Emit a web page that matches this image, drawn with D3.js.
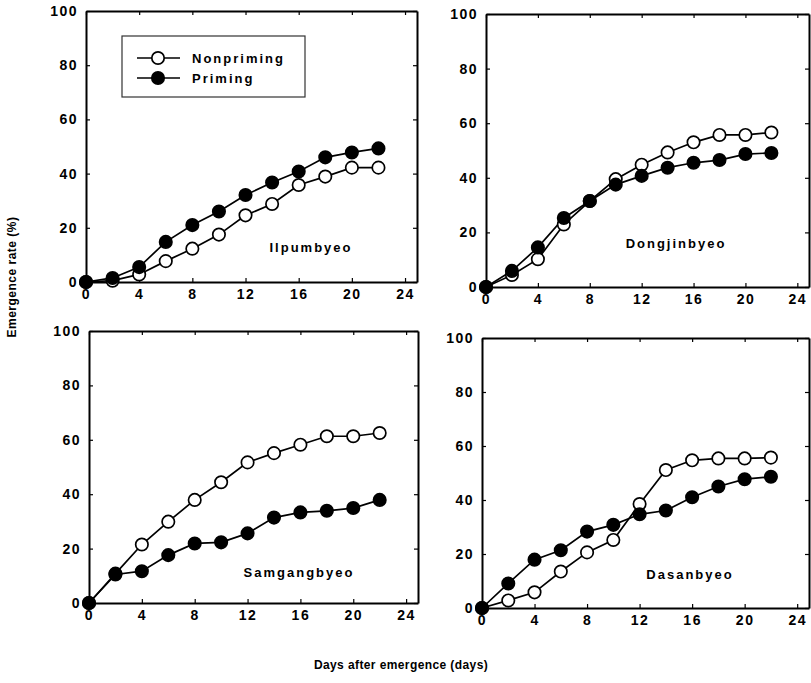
<!DOCTYPE html>
<html>
<head>
<meta charset="utf-8">
<script src="https://cdn.jsdelivr.net/npm/d3@7"></script>
<style>
  body { margin: 0; background: #fff; }
  text { font-family: Arial, "Liberation Sans", sans-serif; font-weight: bold; fill: #000; }
</style>
</head>
<body>
<svg id="chart" width="811" height="683"></svg>
<script>
  // days after emergence
  const days = [0, 2, 4, 6, 8, 10, 12, 14, 16, 18, 20, 22];
  const xTicks = [0, 4, 8, 12, 16, 20, 24];
  const yTicks = [0, 20, 40, 60, 80, 100];
  const cultivars = ['Ilpumbyeo', 'Dongjinbyeo', 'Samgangbyeo', 'Dasanbyeo'];
  const seriesNames = ['Nonpriming', 'Priming'];

  // emergence rate (%)
  const ilpumNon   = [0, 0.5, 2.8, 7.7, 12.3, 17.5, 24.6, 28.8, 35.8, 38.9, 42.2, 42.2];
  const ilpumPri   = [0, 1.5, 5.5, 14.8, 21, 26, 32.1, 36.7, 40.8, 46, 47.8, 49.3];
  const dongjinNon = [0, 4.4, 10.2, 22.9, 31.5, 39.5, 44.8, 49.3, 53, 55.7, 55.7, 56.6];
  const dongjinPri = [0, 5.9, 14.5, 25.3, 31.5, 37.5, 40.7, 43.7, 45.5, 46.5, 48.7, 49.1];
  const samgangNon = [0, 10.8, 21.5, 29.9, 37.9, 44.4, 51.7, 55.1, 58.2, 61.3, 61.3, 62.5];
  const samgangPri = [0, 10.5, 11.7, 17.6, 21.9, 22.3, 25.6, 31.4, 33.3, 33.9, 34.9, 37.9];
  const dasanNon   = [0, 2.8, 5.8, 13.5, 20.6, 25.2, 38.5, 51.1, 54.7, 55.4, 55.4, 55.7];
  const dasanPri   = [0, 9.1, 17.9, 21.4, 28.3, 30.8, 34.7, 36.1, 41, 45, 47.7, 48.6];

  const panelData = [
    [ilpumNon, ilpumPri],
    [dongjinNon, dongjinPri],
    [samgangNon, samgangPri],
    [dasanNon, dasanPri],
  ];

  // layout of the four frames (pixels)
  const frames = [
    { x0: 86, x1: 417, y0: 11, y1: 282, lx: 311, ly: 252 },
    { x0: 486, x1: 809, y0: 14, y1: 287, lx: 676, ly: 248 },
    { x0: 89, x1: 418, y0: 331, y1: 603, lx: 299, ly: 577 },
    { x0: 482, x1: 809, y0: 338, y1: 608, lx: 690, ly: 579 },
  ];

  const svg = d3.select('#chart');
  const R = 6.2;

  frames.forEach((f, i) => {
    const x = d3.scaleLinear().domain([0, 24.9]).range([f.x0, f.x1]);
    const y = d3.scaleLinear().domain([0, 100]).range([f.y1, f.y0]);
    const g = svg.append('g');

    const styleAxis = (sel) => {
      sel.select('.domain').attr('stroke', '#000').attr('stroke-width', 2);
      sel.selectAll('.tick line').attr('stroke', '#000').attr('stroke-width', 1.2);
      sel.selectAll('.tick text')
        .style('font-size', '14px')
        .style('letter-spacing', '1.5px')
        .style('font-family', 'Arial, "Liberation Sans", sans-serif')
        .style('font-weight', 'bold');
    };

    g.append('g')
      .attr('transform', `translate(0,${f.y1})`)
      .call(d3.axisBottom(x).tickValues(xTicks).tickSize(-4).tickSizeOuter(0).tickPadding(7))
      .call(styleAxis);
    g.append('g')
      .attr('transform', `translate(${f.x0},0)`)
      .call(d3.axisLeft(y).tickValues(yTicks).tickSize(-4).tickSizeOuter(0).tickPadding(8))
      .call(styleAxis);
    g.append('g')
      .attr('transform', `translate(0,${f.y0})`)
      .call(d3.axisTop(x).tickValues(xTicks).tickSize(-4).tickSizeOuter(0).tickFormat(''))
      .call(styleAxis);
    g.append('g')
      .attr('transform', `translate(${f.x1},0)`)
      .call(d3.axisRight(y).tickValues(yTicks).tickSize(-4).tickSizeOuter(0).tickFormat(''))
      .call(styleAxis);

    const line = d3.line().x((d, j) => x(days[j])).y(d => y(d));

    panelData[i].forEach((vals, s) => {
      g.append('path')
        .datum(vals)
        .attr('d', line)
        .attr('fill', 'none')
        .attr('stroke', '#000')
        .attr('stroke-width', 1.7);
    });
    panelData[i].forEach((vals, s) => {
      g.selectAll(null)
        .data(vals)
        .enter()
        .append('circle')
        .attr('cx', (d, j) => x(days[j]))
        .attr('cy', d => y(d))
        .attr('r', R)
        .attr('fill', s === 0 ? '#fff' : '#000')
        .attr('stroke', '#000')
        .attr('stroke-width', 1.7);
    });

    g.append('text')
      .attr('x', f.lx)
      .attr('y', f.ly)
      .attr('text-anchor', 'middle')
      .style('font-size', '13px')
      .style('letter-spacing', '2px')
      .text(cultivars[i]);
  });

  // legend in the first panel
  const leg = svg.append('g');
  leg.append('rect')
    .attr('x', 122).attr('y', 36).attr('width', 183).attr('height', 61)
    .attr('fill', '#fff').attr('stroke', '#333').attr('stroke-width', 1.2);
  seriesNames.forEach((name, s) => {
    const yy = 58 + s * 20;
    leg.append('line')
      .attr('x1', 137).attr('x2', 180).attr('y1', yy).attr('y2', yy)
      .attr('stroke', '#000').attr('stroke-width', 1.7);
    leg.append('circle')
      .attr('cx', 158).attr('cy', yy).attr('r', R)
      .attr('fill', s === 0 ? '#fff' : '#000')
      .attr('stroke', '#000').attr('stroke-width', 1.7);
    leg.append('text')
      .attr('x', 192).attr('y', yy + 5)
      .style('font-size', '13px')
      .style('letter-spacing', '2px')
      .text(name);
  });

  // shared axis titles
  svg.append('text')
    .attr('x', 401).attr('y', 669)
    .attr('text-anchor', 'middle')
    .style('font-size', '12px')
    .style('letter-spacing', '0.4px')
    .text('Days after emergence (days)');
  svg.append('text')
    .attr('transform', 'translate(16,277) rotate(-90)')
    .attr('text-anchor', 'middle')
    .style('font-size', '12px')
    .style('letter-spacing', '0.5px')
    .text('Emergence rate (%)');
</script>
</body>
</html>
